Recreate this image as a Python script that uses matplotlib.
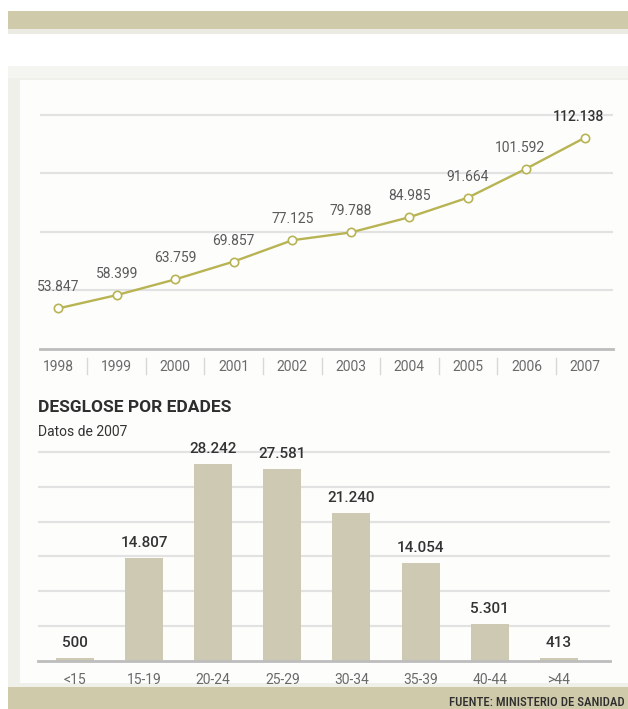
import matplotlib
matplotlib.use("Agg")
import matplotlib.pyplot as plt
from matplotlib.patches import Rectangle
from matplotlib.lines import Line2D

# --- data -------------------------------------------------------------
years = [1998, 1999, 2000, 2001, 2002, 2003, 2004, 2005, 2006, 2007]
totals = [53847, 58399, 63759, 69857, 77125, 79788, 84985, 91664, 101592, 112138]
total_labels = ["53.847", "58.399", "63.759", "69.857", "77.125",
                "79.788", "84.985", "91.664", "101.592", "112.138"]

age_groups = ["<15", "15-19", "20-24", "25-29", "30-34", "35-39", "40-44", ">44"]
age_counts = [500, 14807, 28242, 27581, 21240, 14054, 5301, 413]
age_labels = ["500", "14.807", "28.242", "27.581", "21.240", "14.054", "5.301", "413"]

# --- fonts ------------------------------------------------------------
plt.rcParams["font.family"] = ["Roboto", "DejaVu Sans"]

W, H = 628, 709
fig = plt.figure(figsize=(W / 100, H / 100), dpi=100)
fig.patch.set_facecolor("white")

KHAKI = "#cfcaaa"
OLIVE = "#b8b453"
BAR = "#cdc9b2"
GRID = "#e2e2e2"
TXT = "#5a5a5a"


def px(x0, y0, w, h):
    """Rectangle in figure fraction from pixel box (top-left origin)."""
    return (x0 / W, 1 - (y0 + h) / H), w / W, h / H


# header band and panel background
for (x0, y0, w, h, c) in [
    (8, 11, 620, 18, KHAKI),
    (8, 29, 620, 5, "#ecebe3"),
    (8, 66, 620, 12, "#f4f4f1"),
    (8, 78, 620, 609, "#f0f0ea"),
    (20, 80, 608, 603, "#fdfdfc"),
    (8, 687, 620, 22, KHAKI),
]:
    xy, ww, hh = px(x0, y0, w, h)
    fig.patches.append(Rectangle(xy, ww, hh, transform=fig.transFigure,
                                 facecolor=c, edgecolor="none", zorder=-10))

fig.text(625 / W, 1 - 702 / H, "FUENTE: MINISTERIO DE SANIDAD", fontsize=9.2,
         color="#2e2e2e", ha="right", va="center", fontweight="medium",
         family=["Roboto Condensed", "Roboto", "DejaVu Sans"])

# --- line chart -------------------------------------------------------
ax1 = fig.add_axes([40 / W, 1 - 349 / H, 573 / W, 249 / H])
ax1.set_zorder(5)
ax1.set_facecolor("none")
ax1.set_xlim(1997.69, 2007.48)
ax1.set_ylim(40000, 125000)
ax1.set_yticks([60000, 80000, 100000, 120000])
ax1.yaxis.grid(True, color=GRID, linewidth=1.6)
ax1.set_axisbelow(True)
ax1.tick_params(left=False, labelleft=False, bottom=False, labelbottom=False)
for s in ax1.spines.values():
    s.set_visible(False)
ax1.axhline(40000, color="#bdbdbd", linewidth=2.0, clip_on=False)

ax1.plot(years, totals, color=OLIVE, linewidth=1.7, marker="o", markersize=6,
         markerfacecolor="white", markeredgecolor=OLIVE, markeredgewidth=1.2, zorder=3)

for i, (yr, v, lab) in enumerate(zip(years, totals, total_labels)):
    last = i == len(years) - 1
    ax1.annotate(lab, (yr, v), xytext=(-6 if i >= 8 else 0, 21),
                 textcoords="offset pixels", ha="center", va="center",
                 fontsize=10, color="#333333" if last else TXT,
                 fontweight="medium" if last else "normal")

# year labels with separators below the axis
xt = ax1.get_xaxis_transform()
for i, yr in enumerate(years):
    ax1.annotate(str(yr), (yr, 40000), xytext=(0, -18), textcoords="offset pixels",
                 ha="center", va="center", fontsize=10, color="#6a6a6a",
                 annotation_clip=False)
    if i < len(years) - 1:
        xm = yr + 0.5
        ax1.add_line(Line2D([xm, xm], [-0.038, -0.1], transform=xt,
                            color="#d8d8d8", linewidth=1.0, clip_on=False))

# --- titles for breakdown ---------------------------------------------
fig.text(38 / W, 1 - 407 / H, "DESGLOSE POR EDADES", fontsize=12.5,
         fontweight="bold", color="#2e2e2e", ha="left", va="center")
fig.text(38 / W, 1 - 432 / H, "Datos de 2007", fontsize=10,
         color="#333333", ha="left", va="center")

# --- bar chart --------------------------------------------------------
ax2 = fig.add_axes([38 / W, 1 - 661 / H, 572 / W, 216 / H])
ax2.set_zorder(5)
ax2.set_facecolor("none")
xs = list(range(len(age_groups)))
ax2.bar(xs, age_counts, width=0.55, color=BAR, zorder=2)
ax2.set_xlim(-0.535, 7.74)
ax2.set_ylim(0, 31000)
ax2.set_yticks([5000, 10000, 15000, 20000, 25000, 30000])
ax2.yaxis.grid(True, color=GRID, linewidth=1.6)
ax2.set_axisbelow(True)
for s in ax2.spines.values():
    s.set_visible(False)
ax2.axhline(0, color="#bdbdbd", linewidth=2.0, zorder=3, clip_on=False)
ax2.tick_params(left=False, labelleft=False, bottom=False)
ax2.set_xticks(xs)
ax2.set_xticklabels(age_groups, fontsize=10, color="#6a6a6a")
ax2.tick_params(axis="x", pad=5)

for x, v, lab in zip(xs, age_counts, age_labels):
    ax2.annotate(lab, (x, v), xytext=(0, 15), textcoords="offset pixels",
                 ha="center", va="center", fontsize=11, color="#333333",
                 fontweight="medium")

fig.savefig("out.png", dpi=100)
